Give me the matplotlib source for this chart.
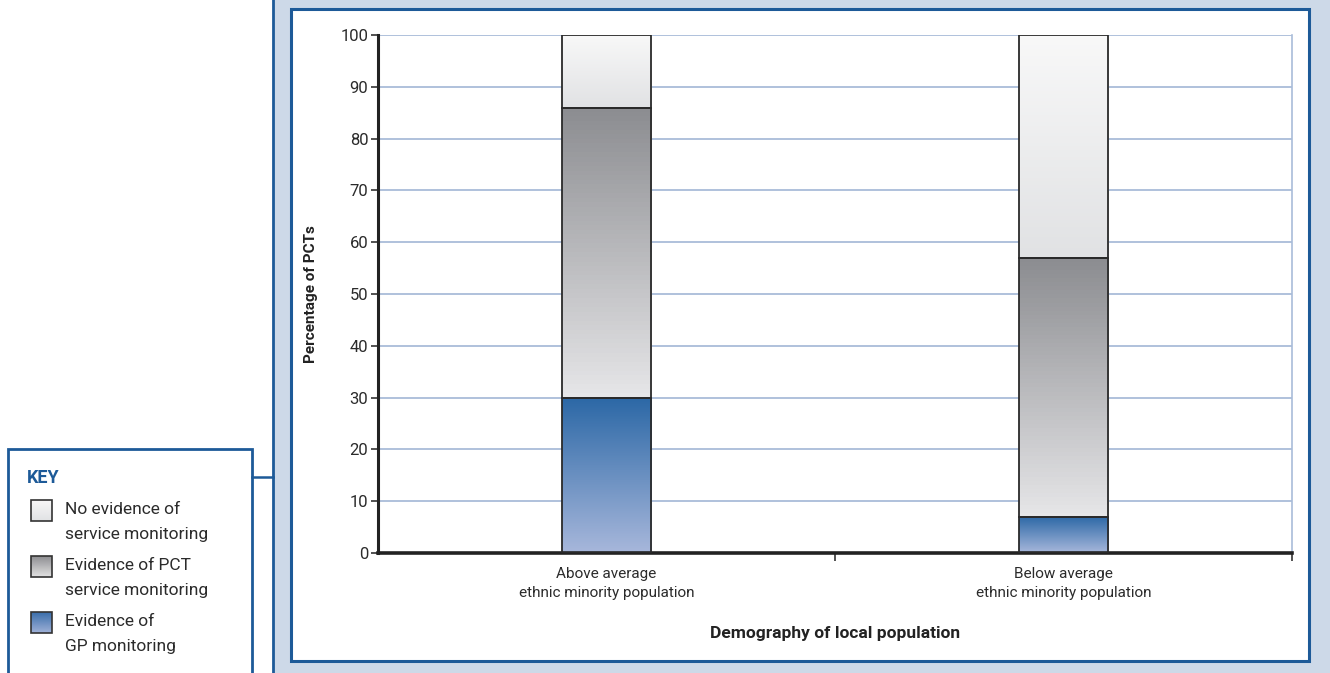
#!/usr/bin/env python3
"""Stacked percentage bars: service monitoring evidence by local demography."""
import matplotlib

matplotlib.use("Agg")
import matplotlib.pyplot as plt
import numpy as np
from matplotlib.patches import Rectangle

plt.rcParams["font.family"] = ["Roboto", "DejaVu Sans"]

categories = ["Above average\nethnic minority population", "Below average\nethnic minority population"]
gp_monitoring = [30, 7]
pct_monitoring = [56, 50]
no_evidence = [14, 43]
key_labels = ["No evidence of\nservice monitoring", "Evidence of PCT\nservice monitoring", "Evidence of\nGP monitoring"]
y_ticks = list(range(0, 101, 10))

NAVY = "#1d5a98"
PANEL = "#cdd9e8"
GRID = "#a9bcd9"
TEXT = "#2b2b2b"
# (top colour, bottom colour) for each stacked segment
GRAD_NONE = ("#f8f8f8", "#e1e2e4")
GRAD_PCT = ("#8c8d91", "#e6e6e8")
GRAD_GP = ("#2c68a6", "#a7b7db")


def gradient(top, bottom, n=64):
    a = np.array(matplotlib.colors.to_rgb(top))
    b = np.array(matplotlib.colors.to_rgb(bottom))
    t = np.linspace(0.0, 1.0, n)[:, None]
    return (a + (b - a) * t)[:, None, :]


W, H = 1330, 673
fig = plt.figure(figsize=(W / 100, H / 100), dpi=100)

# background layer in pixel coordinates
bg = fig.add_axes([0, 0, 1, 1])
bg.set_xlim(0, W)
bg.set_ylim(H, 0)
bg.axis("off")
bg.add_patch(Rectangle((273, -5), W, H + 10, facecolor=PANEL, edgecolor=NAVY, lw=2))
bg.add_patch(Rectangle((291, 9), 1018, 652, facecolor="white", edgecolor=NAVY, lw=2.2))
bg.add_patch(Rectangle((8, 449), 244, 240, facecolor="white", edgecolor=NAVY, lw=2))
bg.plot([252, 273], [477, 477], color=NAVY, lw=1.8)
bg.text(27, 478, "KEY", color=NAVY, fontsize=13, fontweight="bold", va="center", ha="left")

key_grads = [GRAD_NONE, ("#8e8e91", "#e2e2e3"), ("#3a6eab", "#9fb1d7")]
for i, (lab, g) in enumerate(zip(key_labels, key_grads)):
    y0 = 500 + i * 56
    bg.imshow(gradient(*g), extent=(31, 52, y0 + 21, y0), aspect="auto", origin="upper", zorder=2)
    bg.add_patch(Rectangle((31, y0), 21, 21, facecolor="none", edgecolor="#333333", lw=1.2, zorder=3))
    bg.text(65, y0 + 2, lab, color=TEXT, fontsize=12.5, va="top", ha="left", linespacing=1.8)
bg.set_xlim(0, W)
bg.set_ylim(H, 0)

# main chart
ax = fig.add_axes([378 / W, 1 - 553 / H, (1292 - 378) / W, (553 - 35) / H])
x = np.arange(len(categories))
width = 0.195

for xi, gp, pct, none in zip(x, gp_monitoring, pct_monitoring, no_evidence):
    segments = [(0, gp, GRAD_GP), (gp, gp + pct, GRAD_PCT), (gp + pct, gp + pct + none, GRAD_NONE)]
    for lo, hi, g in segments:
        ax.imshow(gradient(*g), extent=(xi - width / 2, xi + width / 2, lo, hi),
                  aspect="auto", origin="upper", zorder=2)
    ax.bar(xi, gp, width, fill=False, edgecolor="#2a2a2a", lw=1.3, zorder=3)
    ax.bar(xi, pct, width, bottom=gp, fill=False, edgecolor="#2a2a2a", lw=1.3, zorder=3)
    ax.bar(xi, none, width, bottom=gp + pct, fill=False, edgecolor="#2a2a2a", lw=1.3, zorder=3)

ax.set_xlim(-0.5, 1.5)
ax.set_ylim(0, 100)
ax.set_yticks(y_ticks)
ax.set_yticklabels([str(v) for v in y_ticks], color=TEXT, fontsize=12)
for v in y_ticks[1:]:
    ax.axhline(v, color=GRID, lw=1.3, zorder=1)
ax.tick_params(axis="y", direction="out", length=5, width=1.2, color="#333333", pad=2)

ax.set_xticks(x)
ax.set_xticklabels(categories, color=TEXT, fontsize=11, linespacing=1.45)
ax.tick_params(axis="x", which="major", length=0, pad=10)
ax.set_xticks([0.5, 1.5], minor=True)
ax.tick_params(axis="x", which="minor", direction="out", length=6, width=1.2, color="#333333")

ax.spines["top"].set_visible(False)
ax.spines["right"].set_color(GRID)
ax.spines["right"].set_linewidth(1.2)
ax.spines["left"].set_color("#222222")
ax.spines["left"].set_linewidth(2.2)
ax.spines["bottom"].set_color("#222222")
ax.spines["bottom"].set_linewidth(2.6)

ax.set_ylabel("Percentage of PCTs", fontsize=11, fontweight="bold", color="#222222", labelpad=16)
ax.set_xlabel("Demography of local population", fontsize=12.5, fontweight="bold", color="#222222", labelpad=19)

fig.savefig("out.png", dpi=100)
